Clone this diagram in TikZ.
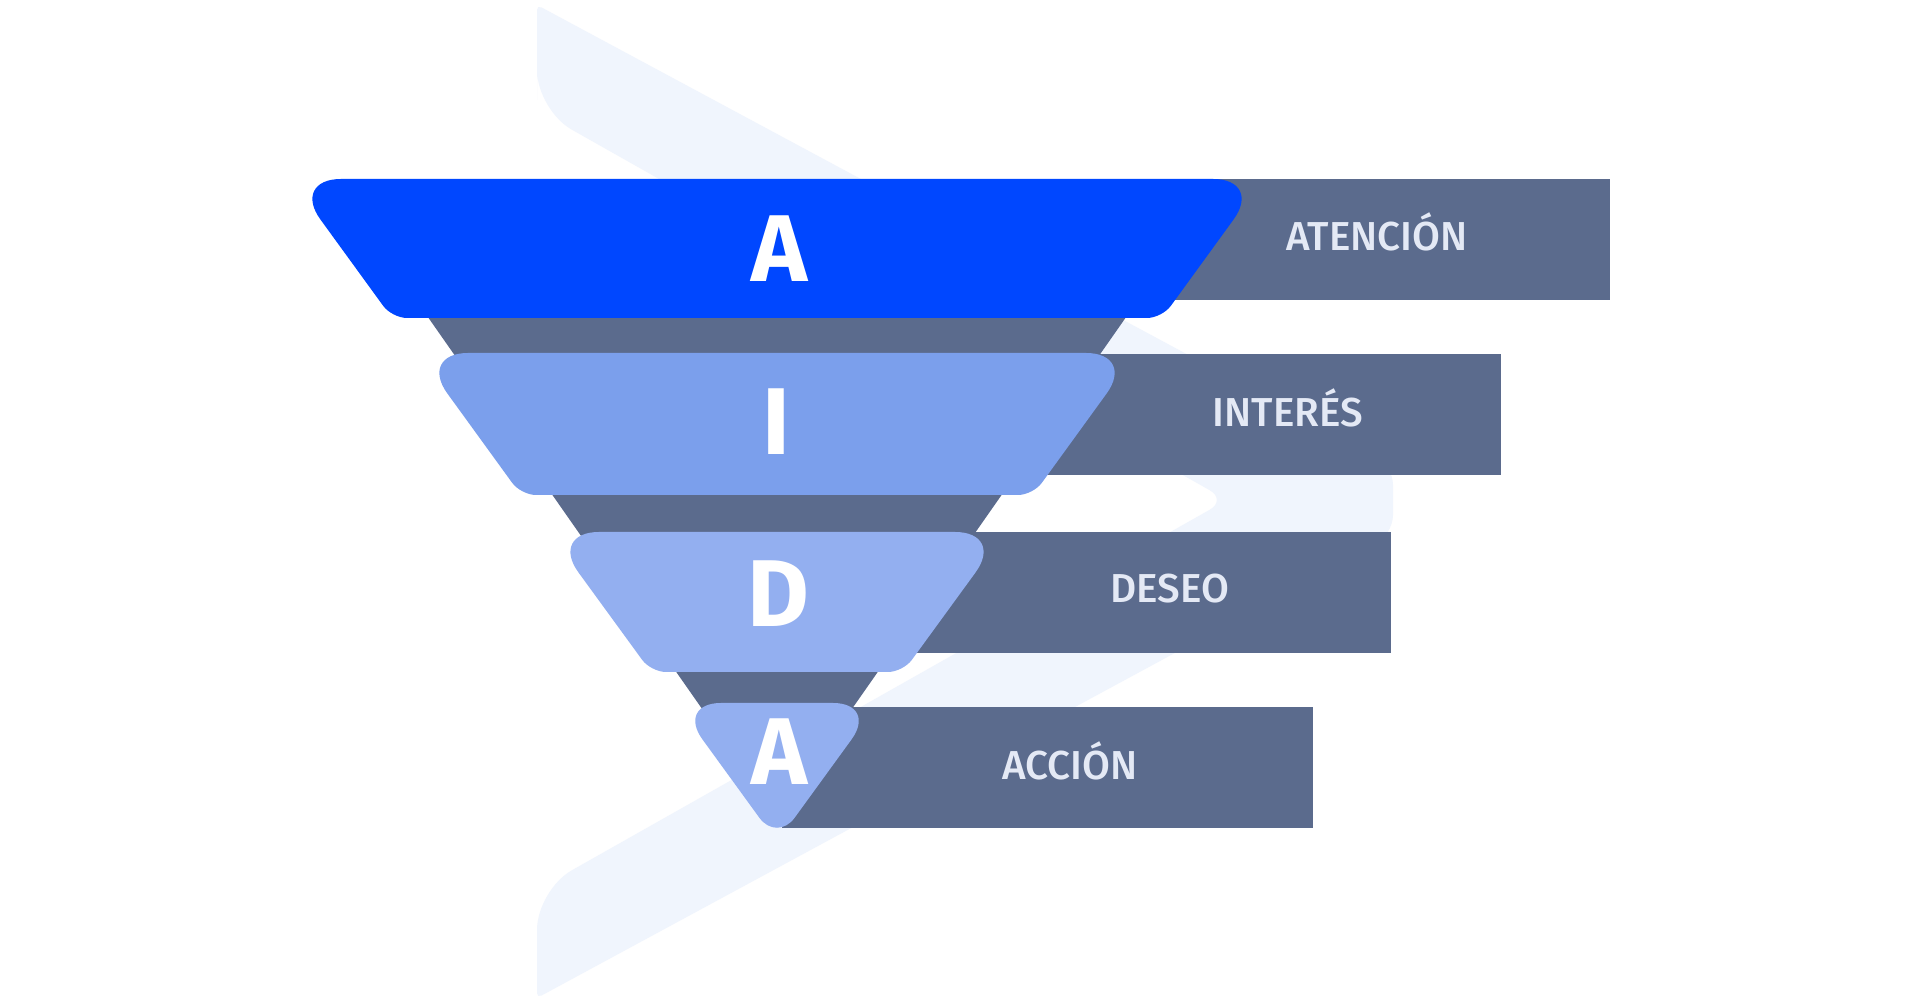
\documentclass[tikz,border=0pt]{standalone}
\usepackage{fontspec}
\setmainfont{Fira Sans}
\newfontfamily\stagefont{Fira Sans}[UprightFont={* Medium}]
\definecolor{aidablue}{HTML}{0047FF}
\definecolor{aidamid}{HTML}{7B9FEC}
\definecolor{aidalight}{HTML}{93AFF0}
\definecolor{aidaslate}{HTML}{5B6B8D}
\definecolor{aidatext}{HTML}{E4E9F5}
\definecolor{aidapale}{HTML}{F0F5FD}
\tikzset{
  letter/.style={text=white,inner sep=0pt,anchor=base,font=\fontsize{27}{27}\selectfont\bfseries},
  stagename/.style={text=aidatext,inner sep=0pt,anchor=base,font=\fontsize{11.5}{11.5}\stagefont},
  bar/.style={fill=aidaslate}
}
\begin{document}
\begin{tikzpicture}[x=0.1mm,y=-0.1mm]
\useasboundingbox (0,0) rectangle (1920,1005);
\fill[white] (0,0) rectangle (1920,1005);
% pale chevron behind the funnel
\fill[aidapale] (537,60) [rounded corners=0.5mm] -- (537,5) [rounded corners=2mm] -- (1393,465) -- (1393,535) [rounded corners=0.5mm] -- (537,998) [rounded corners=4mm] -- (537,890) [rounded corners=2mm] -- (1227,500) [rounded corners=4mm] -- (537,110) -- cycle;
% dark funnel
\fill[aidaslate] (381,250) -- (1173,250) -- (777,816) -- cycle;
% bars on the right
\fill[bar] (777,179) rectangle (1610,300);
\fill[bar] (777,354) rectangle (1501,475);
\fill[bar] (777,532) rectangle (1391,653);
\fill[bar] (782,707) rectangle (1313,828);
% bands
\fill[aidablue] (777,179) [rounded corners=5mm] -- (291,179) [rounded corners=1.5mm] -- (392,318) -- (1162,318) [rounded corners=5mm] -- (1263,179) -- cycle;
\fill[aidamid] (777,353) [rounded corners=5mm] -- (418,353) [rounded corners=1.5mm] -- (521,495) -- (1033,495) [rounded corners=5mm] -- (1136,353) -- cycle;
\fill[aidalight] (777,532) [rounded corners=5mm] -- (549,532) [rounded corners=1.5mm] -- (651,672) -- (903,672) [rounded corners=5mm] -- (1005,532) -- cycle;
\fill[aidalight] (777,703) [rounded corners=4.5mm] -- (676,703) [rounded corners=3mm] -- (777,842) [rounded corners=4.5mm] -- (878,703) -- cycle;
% letters
\node[letter] (att) at (779,282) {A};
\node[letter] (int) at (776,455) {I};
\node[letter] (des) at (778,627) {D};
\node[letter] (acc) at (779,785) {A};
% stage names
\node[stagename] (attname) at (1377,251) {ATENCIÓN};
\node[stagename] (intname) at (1288,427) {INTERÉS};
\node[stagename] (desname) at (1170,603) {DESEO};
\node[stagename] (accname) at (1070,780) {ACCIÓN};
\end{tikzpicture}
\end{document}
